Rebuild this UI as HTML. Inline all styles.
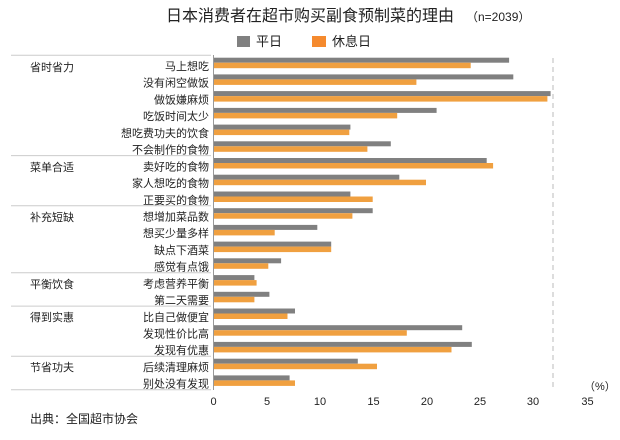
<!DOCTYPE html>
<html><head><meta charset="utf-8"><style>
html,body{margin:0;padding:0;background:#fff;}
svg text{font-family:"Liberation Sans","Noto Sans CJK SC",sans-serif;}
</style></head><body>
<svg width="620" height="435" viewBox="0 0 620 435" xmlns="http://www.w3.org/2000/svg">
<rect width="620" height="435" fill="#fff"/>
<text x="166" y="21" font-size="16" fill="#222">日本消费者在超市购买副食预制菜的理由</text>
<text x="466" y="21" font-size="12" fill="#222">（n=2039）</text>
<rect x="237" y="36" width="13" height="11" fill="#808080"/>
<text x="256" y="46" font-size="13" fill="#222">平日</text>
<rect x="312" y="36" width="14" height="11" fill="#f58a2e"/>
<text x="332" y="46" font-size="13" fill="#222">休息日</text>
<line x1="553" y1="58" x2="553" y2="390" stroke="#bbb" stroke-dasharray="5,4"/>
<g stroke="#ccc" stroke-width="1">
<line x1="11" y1="55.3" x2="211" y2="55.3"/>
<line x1="11" y1="155.6" x2="211" y2="155.6"/>
<line x1="11" y1="205.8" x2="211" y2="205.8"/>
<line x1="11" y1="272.7" x2="211" y2="272.7"/>
<line x1="11" y1="306.1" x2="211" y2="306.1"/>
<line x1="11" y1="356.3" x2="211" y2="356.3"/>
<line x1="11" y1="389.7" x2="211" y2="389.7"/>
</g>
<line x1="213.5" y1="55" x2="213.5" y2="390" stroke="#999"/>
<g font-size="11" fill="#222">
<text x="30" y="71">省时省力</text>
<text x="30" y="171">菜单合适</text>
<text x="30" y="221">补充短缺</text>
<text x="30" y="288">平衡饮食</text>
<text x="30" y="321">得到实惠</text>
<text x="30" y="371">节省功夫</text>
</g>
<g font-size="11" fill="#222" text-anchor="middle">
<text x="213.5" y="405">0</text><text x="267" y="405">5</text><text x="320" y="405">10</text>
<text x="373.5" y="405">15</text><text x="427" y="405">20</text><text x="480" y="405">25</text>
<text x="533" y="405">30</text><text x="587.5" y="405">35</text>
</g>
<text x="584" y="390" font-size="11" fill="#222">（%）</text>
<text x="30" y="423" font-size="12" fill="#222">出典：全国超市协会</text>
<g>
<rect x="214" y="57.7" width="295.1" height="5" fill="#808080"/><rect x="214" y="62.7" width="256.7" height="5.5" fill="#f0a040"/><text x="209" y="70" font-size="11" text-anchor="end" fill="#222">马上想吃</text>
<rect x="214" y="74.4" width="299.3" height="5" fill="#808080"/><rect x="214" y="79.4" width="202.4" height="5.5" fill="#f0a040"/><text x="209" y="86.7" font-size="11" text-anchor="end" fill="#222">没有闲空做饭</text>
<rect x="214" y="91.1" width="336.6" height="5" fill="#808080"/><rect x="214" y="96.1" width="333.4" height="5.5" fill="#f0a040"/><text x="209" y="103.4" font-size="11" text-anchor="end" fill="#222">做饭嫌麻烦</text>
<rect x="214" y="107.9" width="222.6" height="5" fill="#808080"/><rect x="214" y="112.9" width="183.2" height="5.5" fill="#f0a040"/><text x="209" y="120.2" font-size="11" text-anchor="end" fill="#222">吃饭时间太少</text>
<rect x="214" y="124.6" width="136.4" height="5" fill="#808080"/><rect x="214" y="129.6" width="135.3" height="5.5" fill="#f0a040"/><text x="209" y="136.9" font-size="11" text-anchor="end" fill="#222">想吃费功夫的饮食</text>
<rect x="214" y="141.3" width="176.8" height="5" fill="#808080"/><rect x="214" y="146.3" width="153.4" height="5.5" fill="#f0a040"/><text x="209" y="153.6" font-size="11" text-anchor="end" fill="#222">不会制作的食物</text>
<rect x="214" y="158.0" width="272.7" height="5" fill="#808080"/><rect x="214" y="163.0" width="279.1" height="5.5" fill="#f0a040"/><text x="209" y="170.3" font-size="11" text-anchor="end" fill="#222">卖好吃的食物</text>
<rect x="214" y="174.7" width="185.3" height="5" fill="#808080"/><rect x="214" y="179.7" width="212.0" height="5.5" fill="#f0a040"/><text x="209" y="187.0" font-size="11" text-anchor="end" fill="#222">家人想吃的食物</text>
<rect x="214" y="191.5" width="136.4" height="5" fill="#808080"/><rect x="214" y="196.5" width="158.7" height="5.5" fill="#f0a040"/><text x="209" y="203.8" font-size="11" text-anchor="end" fill="#222">正要买的食物</text>
<rect x="214" y="208.2" width="158.7" height="5" fill="#808080"/><rect x="214" y="213.2" width="138.4" height="5.5" fill="#f0a040"/><text x="209" y="220.5" font-size="11" text-anchor="end" fill="#222">想增加菜品数</text>
<rect x="214" y="224.9" width="103.3" height="5" fill="#808080"/><rect x="214" y="229.9" width="60.7" height="5.5" fill="#f0a040"/><text x="209" y="237.2" font-size="11" text-anchor="end" fill="#222">想买少量多样</text>
<rect x="214" y="241.6" width="117.2" height="5" fill="#808080"/><rect x="214" y="246.6" width="117.2" height="5.5" fill="#f0a040"/><text x="209" y="253.9" font-size="11" text-anchor="end" fill="#222">缺点下酒菜</text>
<rect x="214" y="258.3" width="67.1" height="5" fill="#808080"/><rect x="214" y="263.3" width="54.3" height="5.5" fill="#f0a040"/><text x="209" y="270.6" font-size="11" text-anchor="end" fill="#222">感觉有点饿</text>
<rect x="214" y="275.1" width="40.4" height="5" fill="#808080"/><rect x="214" y="280.1" width="42.6" height="5.5" fill="#f0a040"/><text x="209" y="287.4" font-size="11" text-anchor="end" fill="#222">考虑营养平衡</text>
<rect x="214" y="291.8" width="55.4" height="5" fill="#808080"/><rect x="214" y="296.8" width="40.4" height="5.5" fill="#f0a040"/><text x="209" y="304.1" font-size="11" text-anchor="end" fill="#222">第二天需要</text>
<rect x="214" y="308.5" width="81.0" height="5" fill="#808080"/><rect x="214" y="313.5" width="73.5" height="5.5" fill="#f0a040"/><text x="209" y="320.8" font-size="11" text-anchor="end" fill="#222">比自己做便宜</text>
<rect x="214" y="325.2" width="248.2" height="5" fill="#808080"/><rect x="214" y="330.2" width="192.8" height="5.5" fill="#f0a040"/><text x="209" y="337.5" font-size="11" text-anchor="end" fill="#222">发现性价比高</text>
<rect x="214" y="341.9" width="257.8" height="5" fill="#808080"/><rect x="214" y="346.9" width="237.5" height="5.5" fill="#f0a040"/><text x="209" y="354.2" font-size="11" text-anchor="end" fill="#222">发现有优惠</text>
<rect x="214" y="358.7" width="143.8" height="5" fill="#808080"/><rect x="214" y="363.7" width="163.0" height="5.5" fill="#f0a040"/><text x="209" y="371.0" font-size="11" text-anchor="end" fill="#222">后续清理麻烦</text>
<rect x="214" y="375.4" width="75.6" height="5" fill="#808080"/><rect x="214" y="380.4" width="81.0" height="5.5" fill="#f0a040"/><text x="209" y="387.7" font-size="11" text-anchor="end" fill="#222">别处没有发现</text>
</g>
</svg>
</body></html>
